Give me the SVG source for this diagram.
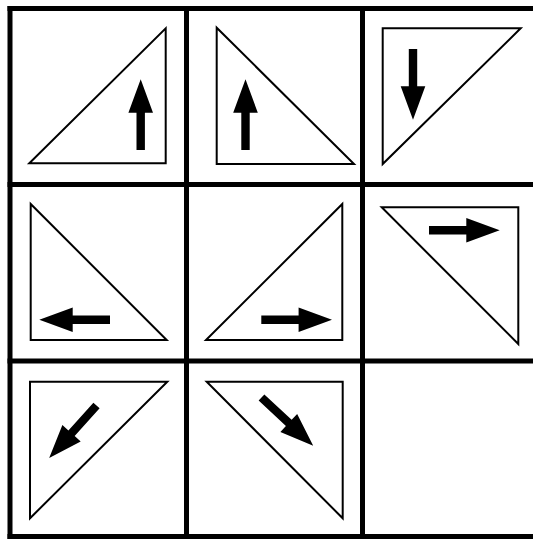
<svg xmlns="http://www.w3.org/2000/svg" xmlns:xlink="http://www.w3.org/1999/xlink" width="533" height="539" viewBox="0 0 533 539">
<style>
.grid{stroke:#000;stroke-width:5;fill:none;stroke-linecap:square}
.tri{stroke:#000;stroke-width:2;fill:#fff;stroke-linejoin:miter}
.arrow{fill:#000}
</style>
<defs>
<path id="arr" d="M0,-4.2H37.3V-12.3L70.7,0L37.3,12.3V4.2H0Z"/>
</defs>
<rect width="533" height="539" fill="#fff"/>
<g id="grid" class="grid">
<line x1="10" y1="8.5" x2="540" y2="8.5"/>
<line x1="10" y1="184.5" x2="540" y2="184.5"/>
<line x1="10" y1="361" x2="540" y2="361"/>
<line x1="10" y1="536.5" x2="540" y2="536.5"/>
<line x1="10" y1="8.5" x2="10" y2="536.5"/>
<line x1="186.5" y1="8.5" x2="186.5" y2="536.5"/>
<line x1="362.5" y1="8.5" x2="362.5" y2="536.5"/>
</g>
<g id="cell1"><polygon class="tri" points="165.7,28.3 165.7,163.3 29.3,163.3"/><use class="arrow" xlink:href="#arr" transform="translate(140.7,150) rotate(-90)"/></g>
<g id="cell2"><polygon class="tri" points="216.7,27.7 216.7,164 354,164"/><use class="arrow" xlink:href="#arr" transform="translate(245.5,150) rotate(-90)"/></g>
<g id="cell3"><polygon class="tri" points="382.7,28.3 520.7,28.3 382.7,164"/><use class="arrow" xlink:href="#arr" transform="translate(413,49) rotate(90)"/></g>
<g id="cell4"><polygon class="tri" points="30.7,204 30.7,340 166.7,340"/><use class="arrow" xlink:href="#arr" transform="translate(110,319.7) rotate(180)"/></g>
<g id="cell5"><polygon class="tri" points="342.3,204 342.3,340 206,340"/><use class="arrow" xlink:href="#arr" transform="translate(261.3,319.8)"/></g>
<g id="cell6"><polygon class="tri" points="381.7,207.3 518.3,207.3 518.3,344"/><use class="arrow" xlink:href="#arr" transform="translate(429,230.2)"/></g>
<g id="cell7"><polygon class="tri" points="30,381.7 167.3,381.7 30,518.3"/><use class="arrow" xlink:href="#arr" transform="translate(96.5,405.5) rotate(132)"/></g>
<g id="cell8"><polygon class="tri" points="206.7,381.7 342.7,381.7 342.7,518.3"/><use class="arrow" xlink:href="#arr" transform="translate(261.5,397.5) rotate(43)"/></g>
<g id="cell9"></g>
</svg>
